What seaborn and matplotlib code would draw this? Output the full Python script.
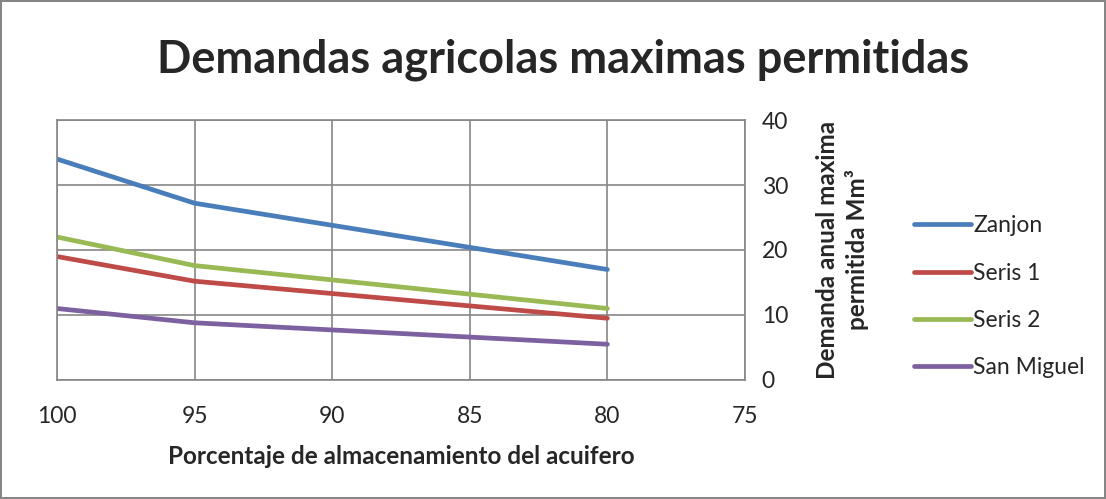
import matplotlib.pyplot as plt
import pandas as pd
import seaborn as sns

almacenamiento = [100, 95, 90, 85, 80]
zanjon = [34.0, 27.2, 23.8, 20.4, 17.0]
seris_1 = [19.0, 15.2, 13.3, 11.4, 9.5]
seris_2 = [22.0, 17.6, 15.4, 13.2, 11.0]
san_miguel = [11.0, 8.8, 7.7, 6.6, 5.5]
series_names = ["Zanjon", "Seris 1", "Seris 2", "San Miguel"]
colores = ["#4A7EBB", "#BE4B48", "#98B954", "#7D60A0"]

df = pd.DataFrame(
    {
        "Porcentaje": almacenamiento * 4,
        "Demanda": zanjon + seris_1 + seris_2 + san_miguel,
        "Serie": [n for n in series_names for _ in almacenamiento],
    }
)

sns.set_theme(style="white")
plt.rcParams["font.family"] = ["Lato", "DejaVu Sans"]

fig = plt.figure(figsize=(11.06, 4.99), dpi=100)
fig.patch.set_edgecolor("#868686")
fig.patch.set_linewidth(1.5)
ax = fig.add_axes([0.0515, 0.2385, 0.6221, 0.521])

sns.lineplot(
    data=df,
    x="Porcentaje",
    y="Demanda",
    hue="Serie",
    palette=colores,
    linewidth=3.4,
    ax=ax,
)

ax.set_xlim(100, 75)
ax.set_ylim(0, 40)
ax.set_xticks([100, 95, 90, 85, 80, 75])
ax.set_yticks([0, 10, 20, 30, 40])
ax.grid(True, color="#868686", linewidth=1.2)
for s in ax.spines.values():
    s.set_color("#868686")
    s.set_linewidth(1.2)
ax.yaxis.tick_right()
ax.yaxis.set_label_position("right")
ax.tick_params(axis="x", labelsize=16.5, pad=19, length=0)
ax.tick_params(axis="y", labelsize=16.5, pad=12, length=0)

ax.set_xlabel("Porcentaje de almacenamiento del acuifero", fontsize=17.5,
              fontweight="bold", labelpad=13)
ax.set_ylabel("Demanda anual maxima\npermitida Mm³", fontsize=17.5,
              fontweight="bold", labelpad=20, rotation=90, linespacing=1.3)

fig.suptitle("Demandas agricolas maximas permitidas", fontsize=32.5,
             fontweight="bold", x=0.509, y=0.88, va="center")

ax.legend(
    loc="center left",
    bbox_to_anchor=(1.215, 0.32),
    frameon=False,
    fontsize=16.5,
    handlelength=2.5,
    handletextpad=0.1,
    labelspacing=1.15,
)

fig.savefig("out.png", dpi=100)
